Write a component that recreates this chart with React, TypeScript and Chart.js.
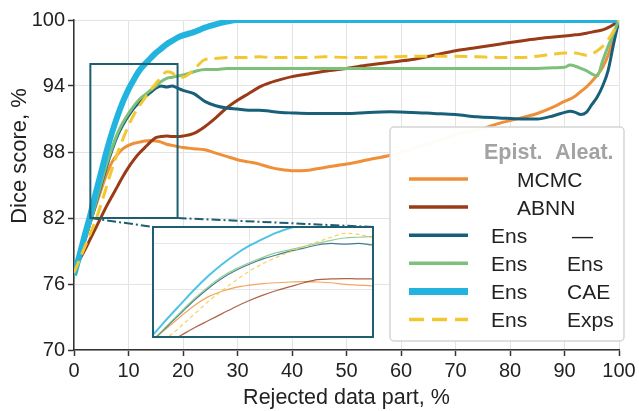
import React, { useEffect, useRef } from 'react';
import { Chart, registerables } from 'chart.js';

Chart.register(...registerables);

// ---------------- data ----------------
const X = [0, 1, 2, 3, 4, 5, 6, 7, 8, 9, 10, 11, 12, 13, 14, 15, 16, 17, 18, 19, 20,
  22, 24, 26, 28, 30, 32, 34, 36, 38, 40,
  43, 46, 50, 54, 58, 62, 66, 70, 74, 78, 82, 85, 88,
  90, 91, 92, 93, 94, 95, 96, 97, 98, 99, 100];

const MCMC = [77.0, 78.5, 80.0, 81.6, 83.1, 84.6, 86.0, 87.1, 87.8, 88.3, 88.6, 88.8, 88.9, 89.0, 89.05, 89.0, 88.9, 88.7, 88.6, 88.5, 88.4,
  88.3, 88.2, 87.9, 87.6, 87.3, 87.1, 86.9, 86.6, 86.4, 86.3,
  86.35, 86.6, 86.9, 87.3, 87.7, 88.3, 88.9, 89.6, 90.0, 90.6, 91.1, 91.5, 92.1,
  92.6, 92.8, 93.1, 93.5, 93.9, 94.4, 95.0, 95.7, 96.8, 98.3, 100];

const ABNN = [77.3, 78.2, 79.1, 80.1, 81.1, 82.1, 83.1, 84.0, 84.9, 85.8, 86.6, 87.3, 87.9, 88.4, 88.9, 89.3, 89.4, 89.45, 89.4, 89.4, 89.45,
  89.7, 90.3, 91.1, 92.0, 92.7, 93.3, 93.9, 94.3, 94.6, 94.85,
  95.1, 95.35, 95.6, 95.9, 96.15, 96.4, 96.8, 97.2, 97.5, 97.8, 98.1, 98.3, 98.45,
  98.55, 98.6, 98.65, 98.7, 98.8, 98.9, 99.0, 99.1, 99.3, 99.6, 100];

const ENS = [77.2, 78.6, 80.0, 81.6, 83.3, 85.0, 86.7, 88.2, 89.5, 90.5, 91.3, 92.0, 92.5, 93.0, 93.4, 93.8, 94.0, 93.9, 94.0, 93.8, 93.6,
  93.3, 92.6, 92.2, 92.0, 91.9, 91.8, 91.8, 91.7, 91.6, 91.55,
  91.5, 91.5, 91.5, 91.6, 91.65, 91.6, 91.5, 91.4, 91.2, 91.1, 91.0, 91.0, 91.3,
  91.6, 91.7, 91.6, 91.4, 91.6, 92.3, 93.0, 94.0, 95.4, 97.8, 100];

const ENS_ENS = [77.2, 78.6, 80.0, 81.6, 83.4, 85.2, 86.9, 88.4, 89.7, 90.7, 91.5, 92.2, 92.8, 93.2, 93.6, 94.0, 94.4, 94.7, 94.8, 94.9, 95.0,
  95.3, 95.5, 95.5, 95.6, 95.6, 95.6, 95.6, 95.6, 95.6, 95.6,
  95.6, 95.6, 95.6, 95.6, 95.6, 95.6, 95.6, 95.6, 95.6, 95.6, 95.6, 95.6, 95.65,
  95.7, 95.9, 95.8, 95.6, 95.4, 95.1, 94.9, 96.3, 97.6, 98.8, 100];

const ENS_CAE = [76.8, 78.6, 80.5, 82.3, 84.3, 86.2, 88.1, 89.8, 91.3, 92.6, 93.7, 94.6, 95.4, 96.0, 96.5, 97.0, 97.4, 97.8, 98.1, 98.4, 98.6,
  98.9, 99.3, 99.6, 99.85, 100, 100, 100, 100, 100, 100,
  100, 100, 100, 100, 100, 100, 100, 100, 100, 100, 100, 100, 100,
  100, 100, 100, 100, 100, 100, 100, 100, 100, 100, 100];

const ENS_EXPS = [77.0, 78.2, 79.4, 80.6, 81.8, 83.3, 84.9, 86.5, 87.9, 89.2, 90.4, 91.4, 92.2, 92.9, 93.6, 94.2, 94.8, 95.3, 95.2, 94.8, 94.8,
  95.5, 96.4, 96.5, 96.6, 96.6, 96.6, 96.65, 96.6, 96.6, 96.6,
  96.6, 96.65, 96.6, 96.6, 96.65, 96.7, 96.7, 96.7, 96.65, 96.6, 96.6, 96.7, 96.9,
  97.0, 97.0, 97.0, 96.9, 96.8, 96.9, 97.2, 97.6, 98.2, 99.0, 100];

const X_TICKS = [0, 10, 20, 30, 40, 50, 60, 70, 80, 90, 100];
const Y_TICKS = [70, 76, 82, 88, 94, 100];
const ZOOM_X = [3, 19];
const ZOOM_Y = [82, 96];
const INSET_X_GRID = [10];
const INSET_Y_GRID = [88, 94];

const LEGEND_HEADER = ['Epist.', 'Aleat.'];

// ---------------- styling ----------------
const FONT = "'Liberation Sans', Arial, Helvetica, sans-serif";
const TEAL_FRAME = '#1D5F70';

const SERIES = [
  { values: MCMC, color: '#EF8F38', width: 3, dash: [] as number[], epist: 'MCMC', aleat: '', merged: true },
  { values: ABNN, color: '#9A3B18', width: 3, dash: [] as number[], epist: 'ABNN', aleat: '', merged: true },
  { values: ENS, color: '#18607A', width: 3, dash: [] as number[], epist: 'Ens', aleat: '—', merged: false },
  { values: ENS_ENS, color: '#7DC07A', width: 3, dash: [] as number[], epist: 'Ens', aleat: 'Ens', merged: false },
  { values: ENS_CAE, color: '#22B4DE', width: 6, dash: [] as number[], epist: 'Ens', aleat: 'CAE', merged: false },
  { values: ENS_EXPS, color: '#F2C832', width: 3, dash: [13, 7], epist: 'Ens', aleat: 'Exps', merged: false },
];

const INSET = { left: 152, top: 226, width: 222, height: 112, border: 2 };

function hexA(hex: string, a: number) {
  const n = parseInt(hex.slice(1), 16);
  return `rgba(${(n >> 16) & 255},${(n >> 8) & 255},${n & 255},${a})`;
}

const overlayPlugin = {
  id: 'overlay',
  afterDatasetsDraw(chart: any) {
    const { ctx } = chart;
    const xs = chart.scales.x;
    const ys = chart.scales.y;
    const bx0 = xs.getPixelForValue(ZOOM_X[0]);
    const bx1 = xs.getPixelForValue(ZOOM_X[1]);
    const byTop = ys.getPixelForValue(ZOOM_Y[1]);
    const byBot = ys.getPixelForValue(ZOOM_Y[0]);
    ctx.save();
    ctx.strokeStyle = TEAL_FRAME;
    ctx.lineWidth = 2;
    ctx.strokeRect(bx0, byTop, bx1 - bx0, byBot - byTop);
    ctx.setLineDash([9, 3, 2, 3]);
    ctx.beginPath();
    ctx.moveTo(bx0, byBot);
    ctx.lineTo(INSET.left + 1, INSET.top + 1);
    ctx.moveTo(bx1, byBot);
    ctx.lineTo(INSET.left + INSET.width - 1, INSET.top + 1);
    ctx.stroke();
    ctx.restore();
  },
  afterDraw(chart: any) {
    const { ctx } = chart;
    ctx.save();
    // y axis title
    ctx.translate(20, 156);
    ctx.rotate(-Math.PI / 2);
    ctx.font = `22px ${FONT}`;
    ctx.fillStyle = '#222';
    ctx.textAlign = 'center';
    ctx.textBaseline = 'middle';
    ctx.fillText('Dice score, %', 0, 0);
    ctx.restore();

    // legend
    const LX = 390, LY = 127, LW = 234, LH = 214;
    ctx.save();
    ctx.beginPath();
    if (ctx.roundRect) ctx.roundRect(LX, LY, LW, LH, 4); else ctx.rect(LX, LY, LW, LH);
    ctx.fillStyle = 'rgba(255,255,255,0.96)';
    ctx.fill();
    ctx.strokeStyle = '#d5d5d5';
    ctx.lineWidth = 1.5;
    ctx.stroke();

    ctx.textBaseline = 'middle';
    ctx.textAlign = 'left';
    ctx.font = `bold 21.5px ${FONT}`;
    ctx.fillStyle = '#a3a3a3';
    ctx.fillText(LEGEND_HEADER[0], 484, 153);
    ctx.fillText(LEGEND_HEADER[1], 555, 153);

    SERIES.forEach((s, i) => {
      const yy = 179 + i * 28.1;
      ctx.beginPath();
      ctx.strokeStyle = s.color;
      ctx.lineWidth = s.width === 6 ? 7 : 3.5;
      ctx.setLineDash(s.dash.length ? [15, 8] : []);
      ctx.moveTo(409, yy);
      ctx.lineTo(468, yy);
      ctx.stroke();
      ctx.setLineDash([]);
      ctx.font = `21px ${FONT}`;
      ctx.fillStyle = '#222';
      if (s.merged) {
        ctx.fillText(s.epist, 517, yy + 2);
      } else {
        ctx.fillText(s.epist, 491, yy + 2);
        ctx.fillText(s.aleat, s.aleat === '—' ? 572 : 567, yy + 2);
      }
    });
    ctx.restore();
  },
};

function buildDatasets(inset: boolean) {
  return SERIES.map((s, i) => ({
    data: X.map((x, k) => ({ x, y: s.values[k] })),
    borderColor: inset ? hexA(s.color, 0.8) : s.color,
    borderWidth: inset ? (s.width === 6 ? 2 : 1.2) : s.width,
    borderDash: inset ? (s.dash.length ? [4, 3] : []) : s.dash,
    pointRadius: 0,
    fill: false,
    cubicInterpolationMode: 'monotone' as const,
    clip: 0,
    order: SERIES.length - i,
  }));
}

export default function App() {
  const mainRef = useRef<HTMLCanvasElement>(null);
  const insetRef = useRef<HTMLCanvasElement>(null);

  useEffect(() => {
    const tickFont = { family: FONT, size: 20 };
    const main = new Chart(mainRef.current as HTMLCanvasElement, {
      type: 'line',
      data: { datasets: buildDatasets(false) as any },
      options: {
        animation: false,
        responsive: false,
        events: [],
        layout: { padding: { top: 20, right: 20, left: 0, bottom: 0 } },
        plugins: { legend: { display: false }, tooltip: { enabled: false } },
        scales: {
          x: {
            type: 'linear',
            min: 0,
            max: 100,
            afterBuildTicks: (s: any) => { s.ticks = X_TICKS.map((v) => ({ value: v })); },
            afterFit: (s: any) => { s.height = 61; },
            ticks: { font: tickFont, color: '#222', padding: 3, maxRotation: 0, autoSkip: false },
            grid: { color: '#e3e3e3', lineWidth: 1, tickColor: '#333', tickLength: 6, tickWidth: 1.5 },
            border: { color: '#333', width: 1.5 },
            title: { display: true, text: 'Rejected data part, %', font: { family: FONT, size: 21.5 }, color: '#222', padding: { top: 0, bottom: 0 } },
          },
          y: {
            type: 'linear',
            min: 70,
            max: 100,
            afterBuildTicks: (s: any) => { s.ticks = Y_TICKS.map((v) => ({ value: v })); },
            afterFit: (s: any) => { s.width = 74; },
            ticks: { font: tickFont, color: '#222', padding: 3, autoSkip: false },
            grid: { color: '#e3e3e3', lineWidth: 1, tickColor: '#333', tickLength: 6, tickWidth: 1.5 },
            border: { color: '#333', width: 1.5 },
            title: { display: false },
          },
        },
      } as any,
      plugins: [overlayPlugin],
    });

    const noAxis = {
      ticks: { display: false },
      grid: { drawTicks: false, color: '#e6e6e6', lineWidth: 1 },
      border: { display: false },
    };
    const inset = new Chart(insetRef.current as HTMLCanvasElement, {
      type: 'line',
      data: { datasets: buildDatasets(true) as any },
      options: {
        animation: false,
        responsive: false,
        events: [],
        layout: { padding: 0 },
        plugins: { legend: { display: false }, tooltip: { enabled: false } },
        scales: {
          x: {
            type: 'linear', min: ZOOM_X[0], max: ZOOM_X[1], ...noAxis,
            afterBuildTicks: (s: any) => { s.ticks = INSET_X_GRID.map((v) => ({ value: v })); },
          },
          y: {
            type: 'linear', min: ZOOM_Y[0], max: ZOOM_Y[1], ...noAxis,
            afterBuildTicks: (s: any) => { s.ticks = INSET_Y_GRID.map((v) => ({ value: v })); },
          },
        },
      } as any,
    });

    return () => {
      main.destroy();
      inset.destroy();
    };
  }, []);

  const innerW = INSET.width - 2 * INSET.border;
  const innerH = INSET.height - 2 * INSET.border;

  return (
    <div style={{ position: 'absolute', left: 0, top: 0, width: 639, height: 411, background: '#fff' }}>
      <canvas ref={mainRef} width={639} height={411} style={{ position: 'absolute', left: 0, top: 0, width: 639, height: 411 }} />
      <div
        style={{
          position: 'absolute',
          left: INSET.left,
          top: INSET.top,
          width: INSET.width,
          height: INSET.height,
          boxSizing: 'border-box',
          border: `${INSET.border}px solid ${TEAL_FRAME}`,
          background: '#fff',
        }}
      >
        <canvas ref={insetRef} width={innerW} height={innerH} style={{ display: 'block', width: innerW, height: innerH }} />
      </div>
    </div>
  );
}
